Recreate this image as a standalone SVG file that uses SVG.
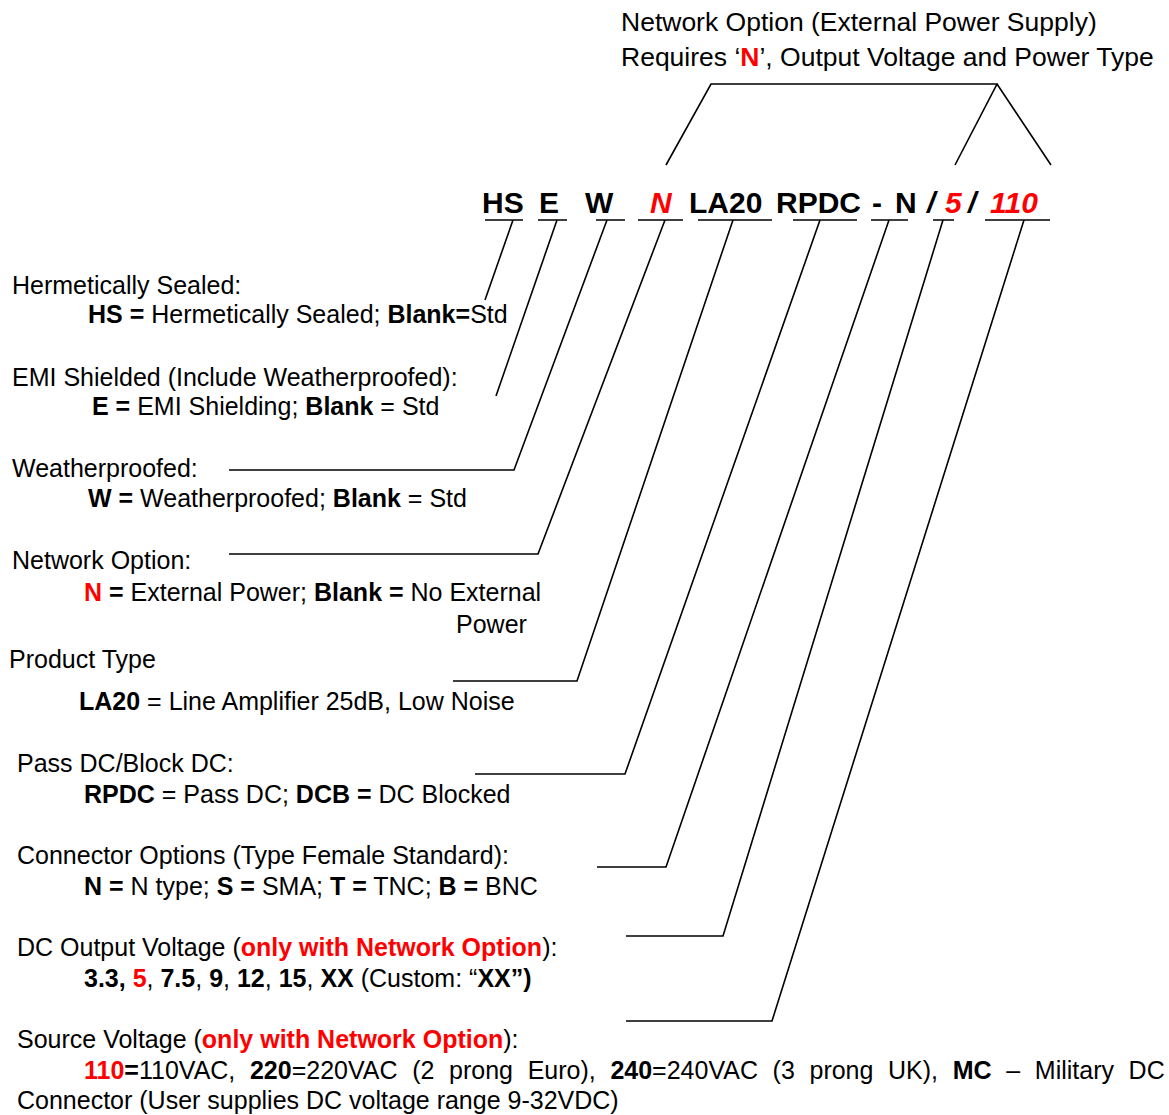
<svg xmlns="http://www.w3.org/2000/svg" width="1169" height="1115" viewBox="0 0 1169 1115">
<style>
text{font-family:"Liberation Sans",Arial,sans-serif;fill:#000}
.t{font-size:25px}
.h{font-size:26.5px}
.c{font-size:30px;font-weight:bold}
.b{font-weight:bold}
.r{fill:#ff0000}
.i{font-style:italic}
.ln{stroke:#000;stroke-width:1.6;fill:none}
</style>
<rect width="1169" height="1115" fill="#fff"/>
<g id="header">
<text class="h" x="621" y="30.5">Network Option (External Power Supply)</text>
<text class="h" x="621" y="65.5">Requires ‘<tspan class="b r">N</tspan>’, Output Voltage and Power Type</text>
</g>
<g id="code">
<text class="c" x="482" y="213">HS</text>
<text class="c" x="539" y="213">E</text>
<text class="c" x="585" y="213">W</text>
<text class="c i r" x="650" y="213">N</text>
<text class="c" x="689" y="213">LA20</text>
<text class="c" x="776" y="213">RPDC</text>
<text class="c" x="872" y="213">-</text>
<text class="c" x="895" y="213">N</text>
<text class="c i" x="927" y="213">/</text>
<text class="c i" x="945" y="213"><tspan class="r">5</tspan></text>
<text class="c i" x="968" y="213">/</text>
<text class="c i r" x="990" y="213">110</text>
</g>
<g id="connectors" class="ln">
<path d="M666,165 L711,84 L997,84 L955,165 M997,84 L1051,165"/>
<path d="M485,220 H523 M538,220 H567 M596,220 H625 M638,220 H683 M698,220 H772 M793,220 H857 M871,220 H908 M933,220 H954 M985,220 H1050"/>
<path d="M513,220 L485,300"/>
<path d="M557,220 L496,396"/>
<path d="M607,220 L514,470 H229"/>
<path d="M665,220 L538,554 H229"/>
<path d="M733,220 L577,681 H453"/>
<path d="M820,220 L625,774 H475"/>
<path d="M889,220 L666,867 H597"/>
<path d="M943,220 L723,936 H626"/>
<path d="M1024,220 L772,1021 H626"/>
</g>
<g id="hermetic">
<text class="t" x="12" y="294">Hermetically Sealed:</text>
<text class="t" x="88" y="323"><tspan class="b">HS =</tspan> Hermetically Sealed; <tspan class="b">Blank=</tspan>Std</text>
</g>
<g id="emi">
<text class="t" x="12" y="386">EMI Shielded (Include Weatherproofed):</text>
<text class="t" x="92" y="415"><tspan class="b">E =</tspan> EMI Shielding; <tspan class="b">Blank</tspan> = Std</text>
</g>
<g id="weather">
<text class="t" x="12" y="477">Weatherproofed:</text>
<text class="t" x="88" y="507"><tspan class="b">W =</tspan> Weatherproofed; <tspan class="b">Blank</tspan> = Std</text>
</g>
<g id="network">
<text class="t" x="12" y="569">Network Option:</text>
<text class="t" x="84" y="601"><tspan class="b r">N</tspan><tspan class="b"> =</tspan> External Power; <tspan class="b">Blank =</tspan> No External</text>
<text class="t" x="456" y="633">Power</text>
</g>
<g id="product">
<text class="t" x="9" y="668">Product Type</text>
<text class="t" x="79" y="710"><tspan class="b">LA20</tspan> = Line Amplifier 25dB, Low Noise</text>
</g>
<g id="passdc">
<text class="t" x="17" y="772">Pass DC/Block DC:</text>
<text class="t" x="84" y="803"><tspan class="b">RPDC</tspan> = Pass DC; <tspan class="b">DCB =</tspan> DC Blocked</text>
</g>
<g id="connector">
<text class="t" x="17" y="864">Connector Options (Type Female Standard):</text>
<text class="t" x="84" y="895"><tspan class="b">N =</tspan> N type; <tspan class="b">S =</tspan> SMA; <tspan class="b">T =</tspan> TNC; <tspan class="b">B =</tspan> BNC</text>
</g>
<g id="dcout">
<text class="t" x="17" y="956">DC Output Voltage (<tspan class="b r">only with Network Option</tspan>):</text>
<text class="t" x="84" y="987"><tspan class="b">3.3, </tspan><tspan class="b r">5</tspan>, <tspan class="b">7.5</tspan>, <tspan class="b">9</tspan>, <tspan class="b">12</tspan>, <tspan class="b">15</tspan>, <tspan class="b">XX</tspan> (Custom: “<tspan class="b">XX”)</tspan></text>
</g>
<g id="source">
<text class="t" x="17" y="1048">Source Voltage (<tspan class="b r">only with Network Option</tspan>):</text>
<text class="t" x="84" y="1079" word-spacing="7.7"><tspan class="b r">110</tspan><tspan class="b">=</tspan>110VAC, <tspan class="b">220</tspan>=220VAC (2 prong Euro), <tspan class="b">240</tspan>=240VAC (3 prong UK), <tspan class="b">MC</tspan> – Military DC</text>
<text class="t" x="17" y="1109">Connector (User supplies DC voltage range 9-32VDC)</text>
</g>
</svg>
